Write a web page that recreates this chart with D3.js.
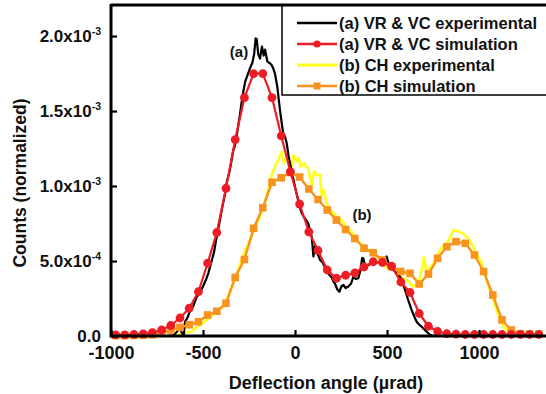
<!DOCTYPE html>
<html>
<head>
<meta charset="utf-8">
<script src="https://cdn.jsdelivr.net/npm/d3@7"></script>
<style>
  html, body { margin: 0; padding: 0; background: #fff; }
  svg { display: block; }
  text { font-family: "Liberation Sans", Arial, sans-serif; font-weight: bold; fill: #111; }
</style>
</head>
<body>
<svg id="chart" width="546" height="394"></svg>
<script>
// ---- data (y in units of 1e-3, x in µrad) ----
const xTicks = [-1000, -500, 0, 500, 1000];
const xTickLabels = ["-1000", "-500", "0", "500", "1000"];
const yTicks = [0, 0.5, 1.0, 1.5, 2.0];
const yTickMain = ["0.0", "5.0x10", "1.0x10", "1.5x10", "2.0x10"];
const yTickExp = ["", "-4", "-3", "-3", "-3"];

const seriesNames = ["(a) VR & VC experimental", "(a) VR & VC simulation", "(b) CH experimental", "(b) CH simulation"];
const seriesColors = ["#000000", "#ee1c24", "#ffff1a", "#f7931e"];

// (a) VR & VC experimental
const expAx = [-1000,-700,-660,-640,-625,-615,-605,-598,-585,-570,-553,-535,-516,-500,-484,-471,-455,-440,-426,-410,-395,-380,-370,-355,-345,-335,-326,-315,-300,-290,-281,-270,-258,-245,-232,-222,-214,-208,-200,-190,-180,-170,-163,-150,-138,-127,-117,-109,-96,-82,-70,-64,-55,-45,-35,-27,-15,0,12,24,36,50,62,72,82,91,100,108,114,122,136,150,162,172,185,200,210,217,230,241,252,263,275,290,305,317,330,344,356,365,371,380,395,410,426,445,462,480,498,510,522,534,552,571,585,598,615,634,648,661,675,688,702,715,730,750,1360];
const expAy = [0,0,0.005,0.03,0.06,0.02,0.0,0.095,0.12,0.17,0.2,0.26,0.29,0.33,0.375,0.42,0.49,0.56,0.66,0.76,0.86,0.95,1.03,1.1,1.17,1.24,1.27,1.35,1.47,1.56,1.63,1.70,1.74,1.785,1.82,1.88,1.985,1.98,1.88,1.85,1.93,1.87,1.91,1.83,1.82,1.807,1.78,1.75,1.66,1.51,1.40,1.35,1.33,1.285,1.2,1.15,1.08,0.995,0.93,0.87,0.82,0.79,0.77,0.75,0.70,0.66,0.53,0.6,0.595,0.55,0.507,0.49,0.46,0.44,0.41,0.39,0.36,0.35,0.31,0.295,0.33,0.34,0.32,0.33,0.35,0.395,0.38,0.385,0.44,0.52,0.518,0.473,0.47,0.48,0.485,0.49,0.495,0.51,0.53,0.48,0.46,0.44,0.42,0.395,0.35,0.307,0.24,0.173,0.13,0.095,0.075,0.062,0.045,0.029,0.012,0,0];

// (a) VR & VC simulation
const simAx = [-975,-925,-875,-825,-775,-725,-675,-625,-575,-525,-475,-425,-375,-325,-275,-225,-175,-125,-75,-25,25,75,125,175,225,275,325,375,425,475,525,575,625,675,725,775,825,875,925,975,1025,1075,1125,1175,1225,1275,1325];
const simAy = [0.008,0.008,0.01,0.014,0.022,0.04,0.07,0.12,0.185,0.295,0.485,0.69,0.985,1.31,1.59,1.75,1.75,1.59,1.335,1.095,0.88,0.695,0.57,0.44,0.385,0.405,0.42,0.46,0.495,0.49,0.465,0.36,0.29,0.15,0.065,0.03,0.015,0.012,0.01,0.01,0.01,0.01,0.01,0.01,0.01,0.01,0.01];

// (b) CH experimental
const expBx = [-1000,-640,-607,-585,-562,-520,-480,-440,-390,-370,-344,-315,-290,-268,-245,-222,-199,-180,-163,-145,-127,-109,-91,-72,-60,-45,-30,-18,-9,9,20,31,49,60,72,80,91,104,118,136,145,154,172,181,209,227,254,281,299,326,353,375,398,420,444,471,498,516,543,571,607,643,670,688,701,715,735,752,770,788,806,824,843,861,879,897,915,933,960,987,1015,1042,1060,1078,1105,1133,1160,1187,1220,1360];
const expBy = [0,0,0.02,0.025,0.03,0.07,0.107,0.15,0.195,0.25,0.329,0.42,0.507,0.58,0.64,0.71,0.773,0.83,0.895,0.98,1.073,1.129,1.173,1.229,1.151,1.195,1.16,1.129,1.207,1.162,1.19,1.129,1.151,1.13,1.118,1.062,1.007,1.1,1.073,1.073,0.94,0.973,0.885,0.862,0.818,0.795,0.773,0.718,0.707,0.66,0.618,0.6,0.573,0.55,0.529,0.507,0.451,0.485,0.44,0.395,0.373,0.329,0.351,0.44,0.529,0.418,0.46,0.485,0.53,0.573,0.6,0.618,0.66,0.707,0.7,0.695,0.68,0.662,0.618,0.551,0.485,0.373,0.3,0.24,0.14,0.062,0.029,0.013,0,0];

// (b) CH simulation
const simBx = [-975,-925,-875,-825,-775,-725,-675,-625,-575,-525,-475,-425,-375,-325,-275,-225,-175,-125,-75,-25,25,75,125,175,225,275,325,375,425,475,525,575,625,675,725,775,825,875,925,975,1025,1075,1125,1175,1225,1275,1325];
const simBy = [0.003,0.003,0.004,0.005,0.008,0.02,0.04,0.058,0.075,0.095,0.14,0.165,0.218,0.39,0.51,0.718,0.855,1.025,1.055,1.09,1.06,0.98,0.91,0.84,0.773,0.71,0.65,0.585,0.555,0.507,0.462,0.43,0.418,0.347,0.413,0.518,0.595,0.629,0.618,0.54,0.43,0.273,0.107,0.04,0.015,0.012,0.012];

(function () {
// ---- layout ----
const svg = d3.select("#chart");
const pLeft = 111, pRight = 546, pTop = 5, pBottom = 336;
const x = d3.scaleLinear().domain([-1000, 1364]).range([pLeft, pRight]);
const y = d3.scaleLinear().domain([0, 2.207]).range([pBottom, pTop]);

const zip = (xs, ys) => xs.map((v, i) => [v, ys[i]]);
const line = d3.line().x(d => x(d[0])).y(d => y(d[1]));

const plot = svg.append("g");

function drawLine(data, color, width) {
  plot.append("path").datum(data)
    .attr("fill", "none").attr("stroke", color)
    .attr("stroke-width", width).attr("stroke-linejoin", "round")
    .attr("d", line);
}

const dExpB = zip(expBx, expBy), dExpA = zip(expAx, expAy);
const dSimB = zip(simBx, simBy), dSimA = zip(simAx, simAy);

drawLine(dExpB, seriesColors[2], 2.6);
drawLine(dExpA, seriesColors[0], 2.2);
drawLine(dSimB, seriesColors[3], 2.4);
plot.selectAll("rect.sq").data(dSimB).enter().append("rect")
  .attr("x", d => x(d[0]) - 3.8).attr("y", d => y(d[1]) - 3.8)
  .attr("width", 7.6).attr("height", 7.6).attr("fill", seriesColors[3]);
drawLine(dSimA, seriesColors[1], 2.2);
plot.selectAll("circle.dot").data(dSimA).enter().append("circle")
  .attr("cx", d => x(d[0])).attr("cy", d => y(d[1]))
  .attr("r", 4.4).attr("fill", seriesColors[1]);

// ---- axes / frame ----
const axisG = svg.append("g");
axisG.append("line").attr("x1", pLeft).attr("x2", pRight).attr("y1", pBottom).attr("y2", pBottom)
  .attr("stroke", "#000").attr("stroke-width", 3);
axisG.append("line").attr("x1", pLeft).attr("x2", pLeft).attr("y1", pTop - 1).attr("y2", pBottom + 1.5)
  .attr("stroke", "#000").attr("stroke-width", 3);

// x ticks (inward)
const xAxis = d3.axisBottom(x).tickValues(xTicks).tickSize(-6).tickSizeOuter(0)
  .tickFormat((d, i) => xTickLabels[i]).tickPadding(10);
const gx = svg.append("g").attr("transform", `translate(0,${pBottom})`).call(xAxis);
gx.select(".domain").remove();
gx.selectAll(".tick line").attr("stroke", "#000").attr("stroke-width", 2.2);
gx.selectAll(".tick text").style("font-size", "18px").style("font-family", "Liberation Sans, Arial, sans-serif")
  .style("font-weight", "bold").attr("fill", "#111");

// y ticks (inward)
const yAxis = d3.axisLeft(y).tickValues(yTicks).tickSize(-6).tickSizeOuter(0).tickFormat("");
const gy = svg.append("g").attr("transform", `translate(${pLeft},0)`).call(yAxis);
gy.select(".domain").remove();
gy.selectAll(".tick line").attr("stroke", "#000").attr("stroke-width", 2.2);

yTicks.forEach((v, i) => {
  const t = svg.append("text").attr("x", 101).attr("y", y(v) + 6)
    .attr("text-anchor", "end").style("font-size", "17px");
  t.append("tspan").text(yTickMain[i]);
  if (yTickExp[i]) {
    t.append("tspan").attr("dy", -7).style("font-size", "10.5px").text(yTickExp[i]);
  }
});

// axis titles
svg.append("text").attr("x", 326).attr("y", 389).attr("text-anchor", "middle")
  .style("font-size", "18px").text("Deflection angle (µrad)");
svg.append("text").attr("transform", "translate(26,183) rotate(-90)").attr("text-anchor", "middle")
  .style("font-size", "17.5px").text("Counts (normalized)");

// annotations
svg.append("text").attr("x", 239).attr("y", 57).attr("text-anchor", "middle")
  .style("font-size", "15px").text("(a)");
svg.append("text").attr("x", 362).attr("y", 220).attr("text-anchor", "middle")
  .style("font-size", "15px").text("(b)");

// ---- legend ----
const lg = svg.append("g");
lg.append("rect").attr("x", 282).attr("y", pTop).attr("width", 300).attr("height", 95 - pTop)
  .attr("fill", "#fff").attr("stroke", "#000").attr("stroke-width", 1.5);
const rowsY = [23, 44, 65, 86];
seriesNames.forEach((name, i) => {
  const yy = rowsY[i];
  lg.append("line").attr("x1", 297).attr("x2", 337).attr("y1", yy).attr("y2", yy)
    .attr("stroke", seriesColors[i]).attr("stroke-width", i === 2 ? 2.8 : 2.4);
  if (i === 1) lg.append("circle").attr("cx", 317).attr("cy", yy).attr("r", 3.6).attr("fill", seriesColors[1]);
  if (i === 3) lg.append("rect").attr("x", 313.5).attr("y", yy - 3.5).attr("width", 7).attr("height", 7).attr("fill", seriesColors[3]);
  lg.append("text").attr("x", 339).attr("y", yy + 6).style("font-size", "16.5px").text(name);
});
// top frame over legend
svg.append("line").attr("x1", pLeft).attr("x2", pRight).attr("y1", pTop).attr("y2", pTop)
  .attr("stroke", "#000").attr("stroke-width", 3);
})();
</script>
</body>
</html>
